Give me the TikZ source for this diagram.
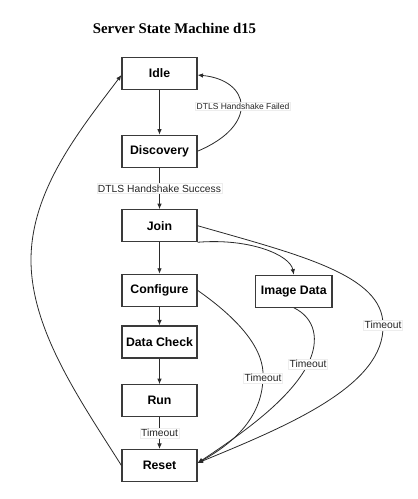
\documentclass[tikz,border=0pt]{standalone}
\usepackage{fontspec}
\setmainfont{Liberation Sans}
\newfontfamily\titlefont{Liberation Serif}
\usetikzlibrary{arrows.meta}
\definecolor{ln}{HTML}{2A2A2A}
\definecolor{bx}{HTML}{3A3A3A}
\tikzset{
  state/.style={draw=bx, line width=1.1pt, fill=white, minimum width=75pt, minimum height=32pt, inner sep=0pt,
    font=\bfseries\fontsize{12.3}{14}\selectfont},
  conn/.style={draw=ln, line width=0.8pt, -{Latex[length=5.5pt,width=4.5pt]}},
  lbl/.style={fill=white, draw=black!7, line width=0.4pt, inner sep=1pt, font=\fontsize{10.3}{12}\selectfont, text=black!85},
  lblsmall/.style={lbl, font=\fontsize{8.5}{10}\selectfont}
}
\begin{document}
\begin{tikzpicture}[x=1pt,y=-1pt]
\useasboundingbox (0,0) rectangle (418,499);
\node[font=\titlefont\bfseries\fontsize{14.8}{17}\selectfont] (title) at (174.5,28) {Server State Machine d15};
\node[state] (idle) at (159.5,73.5) {Idle};
\node[state] (disc) at (159.5,151.2) {Discovery};
\node[state] (join) at (159.5,225.7) {Join};
\node[state] (conf) at (159.5,290.3) {Configure};
\node[state] (dchk) at (159.5,342) {Data Check};
\node[state] (run) at (159.5,400.7) {Run};
\node[state] (reset) at (159.5,465.5) {Reset};
\node[state, minimum width=76.3pt] (img) at (293.8,291.2) {Image Data};
\coordinate (rin) at ([yshift=2.5pt]reset.east);
\coordinate (iin) at ([yshift=-1.5pt]idle.east);
\coordinate (iwin) at ([yshift=-1.5pt]idle.west);
\coordinate (rout) at ([yshift=0pt]reset.west);
% straight transitions
\draw[conn] (idle) -- (disc);
\draw[conn] (disc) -- node[lbl] {DTLS Handshake Success} (join);
\draw[conn] (join) -- (conf);
\draw[conn] (conf) -- (dchk);
\draw[conn] (dchk) -- (run);
\draw[conn] (run) -- node[lbl] {Timeout} (reset);
% reset -> idle
\draw[conn] (rout) .. controls (80,400) and (31,330) .. (31,260) .. controls (31,190) and (80,130) .. (iwin);
% discovery -> idle
\draw[conn] (disc.east) .. controls (260,125) and (250,80) .. (iin);
\node[lblsmall] (fail) at (243,106) {DTLS Handshake Failed};
% join -> image data
\draw[conn] (join.south east) .. controls (250,238) and (290,255) .. (img.north);
% timeouts to reset
\draw[conn] (join.east) .. controls (300,255) and (383,275) .. (383,325) .. controls (385,385) and (290,425) .. (rin);
\draw[conn] (conf.east) .. controls (240,320) and (265,350) .. (263,378) .. controls (262,420) and (230,445) .. (rin);
\draw[conn] (img.south) .. controls (315,318) and (320,340) .. (308,364) .. controls (290,400) and (240,435) .. (rin);
\node[lbl] (t1) at (383,325) {Timeout};
\node[lbl] (t2) at (263,378) {Timeout};
\node[lbl] (t3) at (308,364) {Timeout};
\end{tikzpicture}
\end{document}
